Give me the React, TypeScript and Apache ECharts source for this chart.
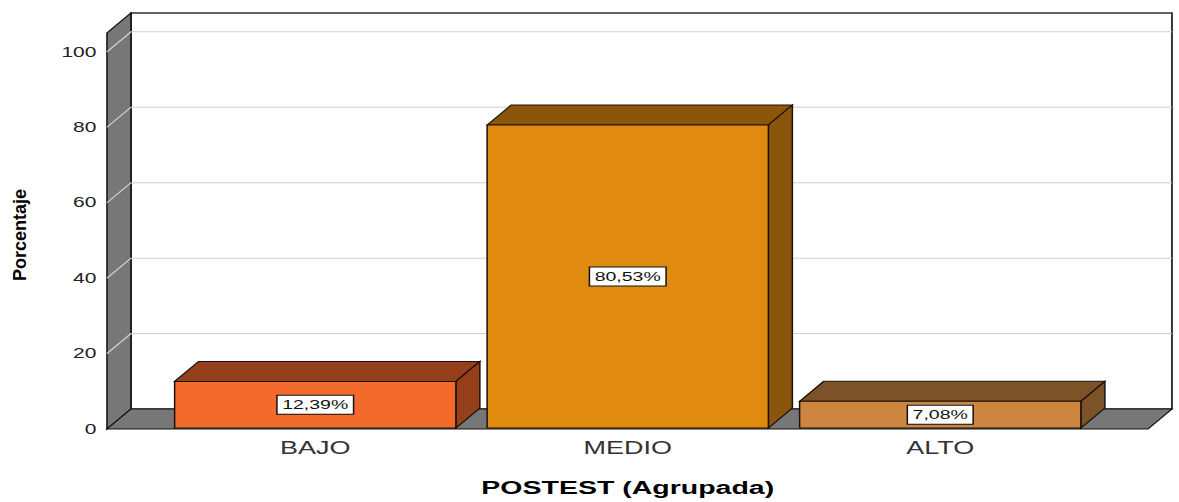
import React, { useEffect, useRef } from "react";
import * as echarts from "echarts";

const categories = ["BAJO", "MEDIO", "ALTO"];
const percentages = [12.39, 80.53, 7.08];
const yTicks = [0, 20, 40, 60, 80, 100];
const Y_MAX = 105;

const frontColors = ["#F26A2C", "#E08A10", "#CD8540"];
const darkColors = ["#96401B", "#8B560B", "#7C5229"];

const S = 1.5; // horizontal stretch of the whole picture
const W = 1179 / S;
const H = 502;
const DX = 16;
const DY = -20;
const FONT = "'Liberation Sans', Arial, sans-serif";

export default function App() {
  const ref = useRef<HTMLDivElement>(null);

  useEffect(() => {
    if (!ref.current) return;
    const chart = echarts.init(ref.current, null, { renderer: "svg" });

    const wallsRender = (params: any, api: any) => {
      const cs = params.coordSys;
      const x0 = cs.x;
      const x1 = cs.x + cs.width;
      const yt = cs.y;
      const yb = cs.y + cs.height;
      const children: any[] = [];
      children.push({
        type: "rect",
        shape: { x: x0 + DX, y: yt + DY, width: x1 - x0, height: yb - yt },
        style: { fill: "#ffffff", stroke: "#333333", lineWidth: 1.3 },
      });
      children.push({
        type: "polygon",
        shape: { points: [[x0, yb], [x0, yt], [x0 + DX, yt + DY], [x0 + DX, yb + DY]] },
        style: { fill: "#777777", stroke: "#111111", lineWidth: 1 },
      });
      children.push({
        type: "polygon",
        shape: { points: [[x0, yb], [x0 + DX, yb + DY], [x1 + DX, yb + DY], [x1, yb]] },
        style: { fill: "#777777", stroke: "#111111", lineWidth: 1 },
      });
      yTicks.forEach((v) => {
        if (v === 0) return;
        const y = api.coord([0, v])[1];
        children.push({
          type: "polyline",
          shape: { points: [[x0, y], [x0 + DX, y + DY], [x1 + DX, y + DY]] },
          style: { fill: "none", stroke: "#cfcfcf", lineWidth: 1 },
        });
      });
      return { type: "group", children };
    };

    const barsRender = (params: any, api: any) => {
      const idx = api.value(0);
      const val = api.value(1);
      const i = params.dataIndex;
      const base = api.coord([idx, 0]);
      const top = api.coord([idx, val]);
      const w = api.size([1, 0])[0] * 0.9;
      const xa = base[0] - w / 2;
      const xb = base[0] + w / 2;
      const yt = top[1];
      const yb = base[1];
      const stroke = "#1a1208";
      const label = val.toFixed(2).replace(".", ",") + "%";
      return {
        type: "group",
        children: [
          {
            type: "polygon",
            shape: { points: [[xa, yt], [xa + DX, yt + DY], [xb + DX, yt + DY], [xb, yt]] },
            style: { fill: darkColors[i], stroke, lineWidth: 1 },
          },
          {
            type: "polygon",
            shape: { points: [[xb, yt], [xb + DX, yt + DY], [xb + DX, yb + DY], [xb, yb]] },
            style: { fill: darkColors[i], stroke, lineWidth: 1 },
          },
          {
            type: "rect",
            shape: { x: xa, y: yt, width: w, height: yb - yt },
            style: { fill: frontColors[i], stroke, lineWidth: 1 },
          },
          {
            type: "text",
            x: base[0],
            y: (yt + yb) / 2,
            style: {
              text: label,
              align: "center",
              verticalAlign: "middle",
              font: `13px ${FONT}`,
              fill: "#111111",
              backgroundColor: "#ffffff",
              borderColor: "#111111",
              borderWidth: 1,
              padding: [3, 3, 2, 3],
            },
          },
        ],
      };
    };

    chart.setOption({
      animation: false,
      backgroundColor: "#ffffff",
      grid: [
        { left: 71.3, right: 20.7, top: 33, bottom: 73 },
        { left: 106, right: 55, top: 33, bottom: 73 },
      ],
      xAxis: [
        { type: "value", gridIndex: 0, min: 0, max: 1, show: false },
        {
          type: "category",
          gridIndex: 1,
          data: categories,
          axisLine: { show: false },
          axisTick: { show: false },
          axisLabel: {
            fontFamily: FONT,
            fontSize: 18,
            color: "#333333",
            margin: 11,
          },
          name: "POSTEST (Agrupada)",
          nameLocation: "middle",
          nameGap: 50,
          nameTextStyle: {
            fontFamily: FONT,
            fontSize: 19,
            fontWeight: "bold",
            color: "#000000",
          },
        },
      ],
      yAxis: [
        {
          type: "value",
          gridIndex: 0,
          min: 0,
          max: Y_MAX,
          interval: 20,
          axisLine: { show: false },
          axisTick: { show: false },
          splitLine: { show: false },
          axisLabel: {
            fontFamily: FONT,
            fontSize: 14,
            color: "#222222",
            margin: 7,
            padding: [6, 0, 0, 0],
            formatter: (v: number) => (yTicks.includes(v) ? String(v) : ""),
          },
        },
        {
          type: "value",
          gridIndex: 1,
          min: 0,
          max: Y_MAX,
          show: false,
        },
      ],
      graphic: [
        {
          type: "text",
          x: 13,
          y: 235,
          rotation: Math.PI / 2,
          scaleY: 0.7,
          style: {
            text: "Porcentaje",
            align: "center",
            verticalAlign: "middle",
            font: `bold 18px ${FONT}`,
            fill: "#000000",
          },
        },
      ],
      series: [
        {
          type: "custom",
          xAxisIndex: 0,
          yAxisIndex: 0,
          z: 1,
          silent: true,
          renderItem: wallsRender,
          data: [[0, 0]],
        },
        {
          type: "custom",
          xAxisIndex: 1,
          yAxisIndex: 1,
          z: 2,
          renderItem: barsRender,
          encode: { x: 0, y: 1 },
          data: categories.map((c, i) => [i, percentages[i]]),
        },
      ],
    });

    return () => chart.dispose();
  }, []);

  return (
    <div
      ref={ref}
      style={{
        position: "absolute",
        left: 0,
        top: 0,
        width: W,
        height: H,
        transform: `scaleX(${S})`,
        transformOrigin: "0 0",
      }}
    />
  );
}
